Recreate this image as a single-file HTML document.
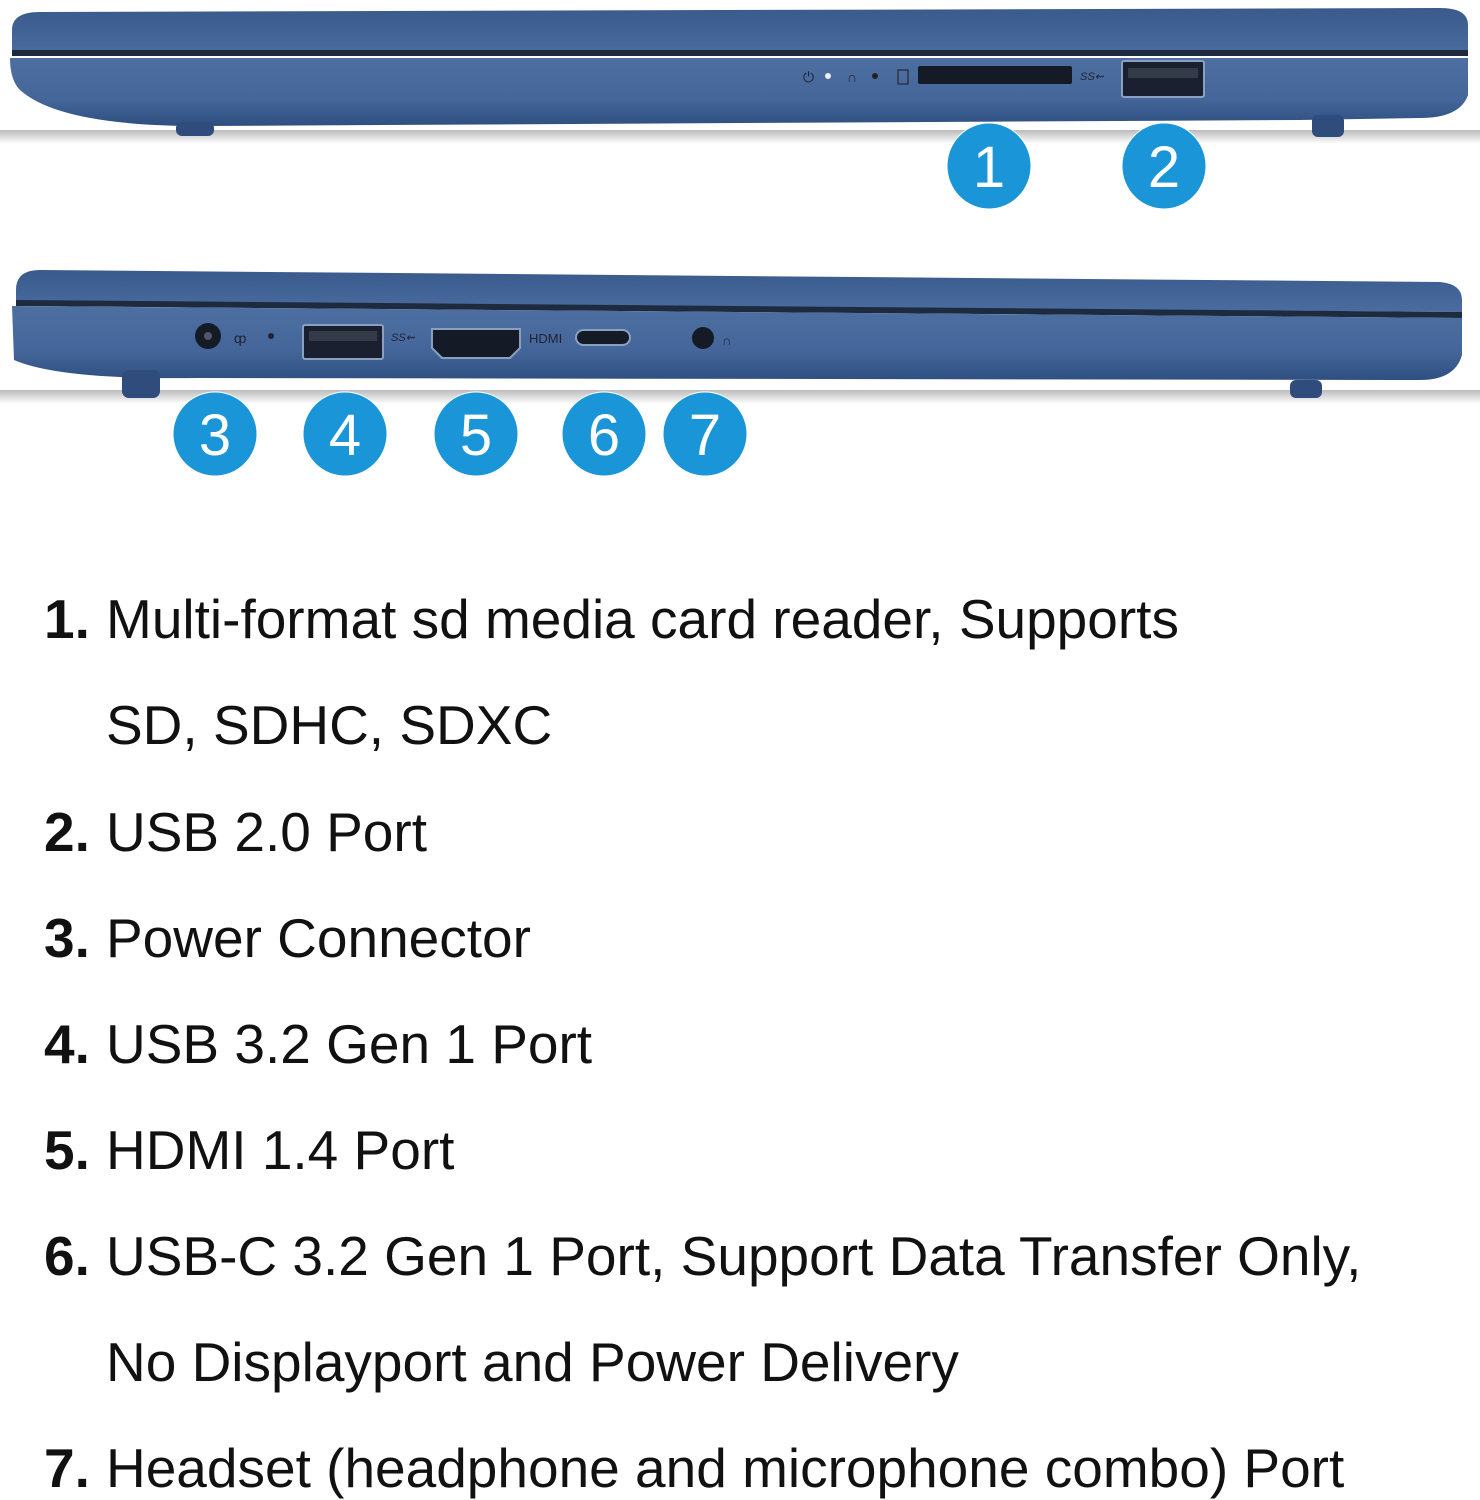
<!DOCTYPE html>
<html><head><meta charset="utf-8"><style>
body{margin:0;width:1480px;height:1500px;background:#fff;overflow:hidden;position:relative;font-family:"Liberation Sans",sans-serif}
.l{position:absolute;left:44px;font-size:55px;color:#111;white-space:nowrap;line-height:1}
.l b{display:inline-block;width:62px}
.i{position:absolute;left:106px;font-size:55px;color:#111;white-space:nowrap;line-height:1}
</style></head><body>
<svg width="1480" height="500" style="position:absolute;left:0;top:0">
<defs>
<linearGradient id="sh" x1="0" x2="0" y1="0" y2="1"><stop offset="0" stop-color="#bbb"/><stop offset="1" stop-color="#fff"/></linearGradient>
<linearGradient id="lid" x1="0" x2="0" y1="0" y2="1"><stop offset="0" stop-color="#3a5a8c"/><stop offset="1" stop-color="#4a6c9e"/></linearGradient>
<linearGradient id="base" x1="0" x2="0" y1="0" y2="1"><stop offset="0" stop-color="#4d6fa0"/><stop offset="0.6" stop-color="#44669a"/><stop offset="1" stop-color="#2f4f80"/></linearGradient>
</defs>
<!-- top laptop -->
<rect x="0" y="130" width="1480" height="14" fill="url(#sh)"/>
<path d="M12 30 Q12 12 40 12 L1440 8 Q1468 8 1468 25 L1468 52 L12 55 Z" fill="url(#lid)"/>
<rect x="12" y="50" width="1456" height="6" fill="#1e2a3e"/>
<path d="M10 58 L1468 58 L1468 95 Q1460 118 1420 118 L1300 120 L200 126 Q60 126 20 90 Q10 80 10 58Z" fill="url(#base)"/>
<rect x="176" y="122" width="38" height="14" rx="6" fill="#2f4c7c"/>
<rect x="1312" y="115" width="32" height="22" rx="6" fill="#2f4c7c"/>
<rect x="918" y="66" width="154" height="18" rx="2" fill="#151b26"/>
<rect x="1122" y="61" width="82" height="36" rx="2" fill="#1a2030" stroke="#8aa0c0" stroke-width="2"/>
<rect x="1128" y="68" width="70" height="10" fill="#333a48"/>
<circle cx="828" cy="76" r="3" fill="#eee"/><circle cx="875" cy="76" r="3" fill="#222"/>
<text x="803" y="82" font-size="14" fill="#223">⏻</text>
<text x="847" y="82" font-size="14" fill="#223">∩</text>
<rect x="898" y="70" width="10" height="14" fill="none" stroke="#334" stroke-width="1.5"/>
<text x="1080" y="80" font-size="11" font-style="italic" fill="#223">SS⇜</text>
<!-- bottom laptop -->
<rect x="0" y="390" width="1480" height="14" fill="url(#sh)"/>
<path d="M16 290 Q16 270 40 270 L1440 282 Q1462 284 1462 300 L1462 312 L16 302 Z" fill="url(#lid)"/>
<path d="M16 300 L1462 312 L1462 318 L16 306Z" fill="#1e2a3e"/>
<path d="M12 306 L1462 318 L1462 355 Q1455 380 1420 380 L200 378 Q60 380 14 360 Z" fill="url(#base)"/>
<rect x="122" y="370" width="38" height="28" rx="7" fill="#2f4c7c"/>
<rect x="1290" y="380" width="32" height="18" rx="6" fill="#2f4c7c"/>
<circle cx="208" cy="336" r="13" fill="#151b26"/><circle cx="208" cy="336" r="4" fill="#556"/>
<circle cx="271" cy="336" r="3" fill="#223"/>
<text x="234" y="343" font-size="14" fill="#223">ȹ</text>
<rect x="303" y="325" width="80" height="34" rx="2" fill="#1a2030" stroke="#8aa0c0" stroke-width="2"/>
<rect x="309" y="331" width="68" height="10" fill="#333a48"/>
<text x="391" y="341" font-size="11" font-style="italic" fill="#223">SS⇜</text>
<path d="M432 329 L520 329 L520 348 L510 358 L442 358 L432 348Z" fill="#151b26" stroke="#8aa0c0" stroke-width="2"/>
<text x="529" y="343" font-size="13" fill="#223">HDMI</text>
<rect x="576" y="330" width="54" height="15" rx="7.5" fill="#151b26" stroke="#8aa0c0" stroke-width="2"/>
<circle cx="703" cy="338" r="11" fill="#151b26"/>
<text x="722" y="345" font-size="13" fill="#223">∩</text>
<!-- badges -->
<g fill="#1a95d8" stroke="#fff" stroke-width="1">
<ellipse cx="989" cy="166" rx="42" ry="43"/><ellipse cx="1164" cy="166" rx="42" ry="43"/>
<ellipse cx="215" cy="434" rx="42" ry="42"/><ellipse cx="345" cy="434" rx="42" ry="42"/>
<ellipse cx="476" cy="434" rx="42" ry="42"/><ellipse cx="604" cy="434" rx="42" ry="42"/>
<ellipse cx="705" cy="434" rx="42" ry="42"/>
</g>
<g fill="#fff" font-size="58" text-anchor="middle" font-family="Liberation Sans,sans-serif">
<text x="989" y="187">1</text><text x="1164" y="187">2</text>
<text x="215" y="455">3</text><text x="345" y="455">4</text><text x="476" y="455">5</text><text x="604" y="455">6</text><text x="705" y="455">7</text>
</g>
</svg>
<div class="l" style="top:592px"><b>1.</b>Multi-format sd media card reader, Supports</div>
<div class="i" style="top:698px">SD, SDHC, SDXC</div>
<div class="l" style="top:805px"><b>2.</b>USB 2.0 Port</div>
<div class="l" style="top:911px"><b>3.</b>Power Connector</div>
<div class="l" style="top:1017px"><b>4.</b>USB 3.2 Gen 1 Port</div>
<div class="l" style="top:1123px"><b>5.</b>HDMI 1.4 Port</div>
<div class="l" style="top:1229px"><b>6.</b>USB-C 3.2 Gen 1 Port, Support Data Transfer Only,</div>
<div class="i" style="top:1335px">No Displayport and Power Delivery</div>
<div class="l" style="top:1441px"><b>7.</b>Headset (headphone and microphone combo) Port</div>
</body></html>
